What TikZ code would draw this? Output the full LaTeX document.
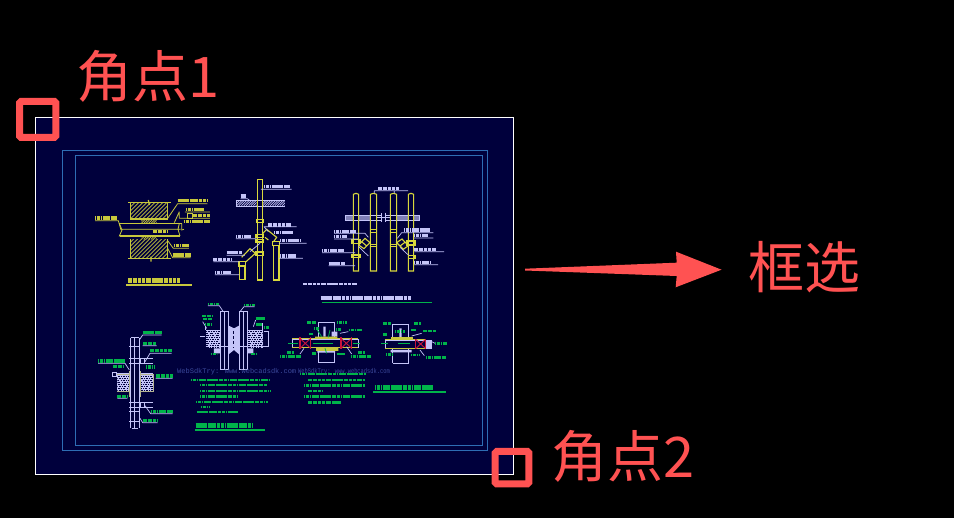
\documentclass[tikz,border=0pt]{standalone}
\usepackage{fontspec}
\newfontfamily\cjk{Noto Sans CJK SC}
\newfontfamily\wm{Liberation Mono}
\definecolor{redc}{HTML}{FF5252}
\definecolor{navy}{HTML}{00003C}
\definecolor{frameb}{HTML}{2E6DB4}
\definecolor{yel}{HTML}{C8C83C}
\definecolor{yel2}{HTML}{D8D83C}
\definecolor{lav}{HTML}{C4C4F8}
\definecolor{grn}{HTML}{00B44A}
\definecolor{redx}{HTML}{C8143C}
\definecolor{wmc}{HTML}{3C4A9C}
\definecolor{tanc}{HTML}{B4B490}
\tikzset{
 big/.style={text=redc,font=\cjk\fontsize{56}{56}\selectfont,anchor=west,inner sep=0pt},
 corner/.style={draw=redc,line width=7pt,rounded corners=1.5pt},
 frm/.style={draw=frameb,line width=.9pt},
 ypipe/.style={draw=yel2,line width=.9pt},
 lpipe/.style={draw=lav,line width=.9pt},
 ythin/.style={draw=yel,line width=.8pt},
 lthin/.style={draw=lav,line width=.7pt},
 gbar/.style={draw=grn,line width=1.1pt},
 blob/.style={line width=3.6pt,dash pattern=on 1.4pt off .3pt on 2.3pt off .3pt on 1pt off .35pt on 1.8pt off .3pt},
 yb/.style={blob,draw=yel},
 lb/.style={blob,draw=lav},
 gb/.style={blob,draw=grn},
 wmark/.style={text=wmc,font=\wm\fontsize{7}{7}\selectfont,inner sep=0pt,anchor=west}
}
\newcommand{\hatchbox}[6]{% x1 y1 x2 y2 step colour
 \begin{scope}
 \clip (#1,#2) rectangle (#3,#4);
 \foreach \k in {-120,-108,...,180}{\draw[#6,line width=.7pt] ({#1+\k*#5},#4) -- ++(80,-80);}
 \end{scope}}
\newcommand{\noisebox}[4]{% x1 y1 x2 y2
 \fill[lav] (#1,#2) rectangle (#3,#4);
 \begin{scope}
 \clip (#1,#2) rectangle (#3,#4);
 \foreach \r/\o in {0/0,1/1.3,2/.5,3/1.9,4/.9,5/1.6,6/.2,7/1.1,8/.7,9/1.8}{
  \draw[navy,line width=.9pt,dash pattern=on 1pt off .9pt on 2pt off 1.3pt,dash phase=\o pt] (#1,{#2+3+\r*6}) -- (#3,{#2+3+\r*6});}
 \end{scope}}
\begin{document}
\begin{tikzpicture}[x=1pt,y=-1pt]
\useasboundingbox (0,0) rectangle (954,518);
\fill[black] (0,0) rectangle (954,518);
% drawing sheet
\filldraw[fill=navy,draw=white,line width=1pt] (35.5,117.5) rectangle (513.5,474.3);
\draw[frm] (62,150.7) rectangle (487.5,450);
\draw[frm] (75,155.3) rectangle (482.7,445);

% ---------- upper left details (zoom 1 frame)
\begin{scope}[shift={(60,150)},x=.33333pt,y=-.33333pt]
 \hatchbox{211}{157}{323}{207}{1}{yel}
 \hatchbox{211}{268}{323}{325}{1}{yel}
 \hatchbox{244}{207}{290}{220}{.6}{yel}
 \hatchbox{244}{258}{290}{268}{.6}{yel}
 \draw[ythin,line width=1.1pt] (205,157) -- (332,157) (205,325) -- (332,325) (211,207) -- (323,207);
 \draw[ythin] (211,157) -- (211,207) (323,157) -- (323,207) (211,268) -- (211,325) (323,268) -- (323,325);
 \draw[ythin,line width=1.1pt] (178,220) -- (365,220) (180,258) -- (360,258);
 \draw[ythin] (183,238) -- (362,238) (178,220) -- (186,240) -- (178,258) -- (180,258) (358,220) -- (354,238) -- (360,258) (365,220) -- (365,240) -- (372,238);
 \draw[ythin,line width=1.2pt] (265,150) -- (268,165) (273,320) -- (273,335);
 % leaders
 \draw[ythin] (105,212) -- (175,212) -- (183,240)
   (353,161) -- (442,161) (353,161) -- (323,205)
   (358,185) -- (343,218) (358,205) -- (450,205) (358,185)--(358,205) (375,186)--(450,186)
   (340,295) -- (387,295) (340,295) -- (323,272)
   (338,323) -- (392,323) (338,323) -- (323,295);
 \draw[ythin] (382,190) rectangle (398,205);
 \draw[yb] (105,204) -- (172,204);
 \draw[yb] (353,152) -- (442,152);
 \draw[yb] (378,178) -- (433,178);
 \draw[yb] (400,197) -- (450,197);
 \draw[yb] (372,215) -- (450,215);
 \draw[yb] (280,245) -- (323,245);
 \draw[yb] (342,287) -- (387,287);
 \draw[yb] (338,315) -- (392,315);
 \draw[yb,line width=5pt] (205,391) -- (360,391);
 \draw[ythin,line width=1.7pt] (198,404) -- (395,404);
 % vertical pipe group
 \draw[lpipe] (528,152) -- (675,152) (528,168) -- (675,168) (528,152) -- (528,168);
 \hatchbox{530}{153}{590}{167}{.6}{lav}
 \hatchbox{609}{153}{675}{167}{.6}{lav}
 \draw[ypipe,line width=1.1pt] (592,88) rectangle (607,390);
 \draw[ypipe,line width=1.1pt] (640,285) -- (640,390) -- (657,390) -- (657,285);
 \draw[ypipe,line width=1.1pt] (538,345) -- (538,388) -- (555,388) -- (555,345);
 \draw[ypipe,line width=1.1pt] (590,208) -- (609,208) -- (609,217) -- (590,217) -- cycle
   (588,254) -- (609,254) -- (609,262) -- (588,262) -- cycle
   (588,268) -- (609,268) -- (609,276) -- (588,276) -- cycle
   (588,306) -- (609,306) -- (609,317) -- (588,317) -- cycle
   (537,335) -- (557,335) -- (557,348) -- (537,348) -- cycle
   (638,275) -- (659,275) -- (659,286) -- (638,286) -- cycle;
 \draw[ypipe,line width=1.1pt] (545,322) -- (570,296) -- (586,310) -- (557,336)
   (607,252) -- (620,238) -- (650,262) -- (640,276) (615,262)--(625,270);
 \draw[lthin] (603,118) -- (695,118) (542,146) -- (562,146) -- (570,152)
   (612,230) -- (710,230) (528,266) -- (590,266) (500,316) -- (555,316)
   (460,335) -- (538,335) (465,374) -- (538,374) (600,280) -- (570,305)
   (657,280) -- (740,280) (657,325) -- (729,325) (612,230) -- (625,245);
 \draw[lb] (612,110) -- (690,110);
 \draw[lb] (542,138) -- (558,138);
 \draw[lb] (625,225) -- (692,225);
 \draw[lb] (642,248) -- (700,248);
 \draw[lb] (528,260) -- (572,260);
 \draw[lb] (500,308) -- (545,308);
 \draw[lb] (460,328) -- (512,328);
 \draw[lb] (465,367) -- (512,367);
 \draw[lb] (660,272) -- (720,272);
 \draw[lb] (660,318) -- (708,318);
\end{scope}

% ---------- upper right detail (zoom 2 frame)
\begin{scope}[shift={(280,150)},x=.33333pt,y=-.33333pt]
 \draw[lpipe] (196,196) rectangle (305,211) (316,196) rectangle (419,211);
 \foreach \a/\b in {198/220,238/270,348/385,403/417}{\fill[lav,opacity=.65] (\a,198) rectangle (\b,209);}
 \draw[lthin] (305,190) -- (305,215) (316,188) -- (316,217) (292,203)--(330,203);
 \foreach \a/\b in {220/236,271/290,331/350,385/401}{
  \draw[ypipe,line width=1.1pt] (\a,133) -- ({(\a+\b)/2},130) -- (\b,133) -- (\b,363) -- (\a,363) -- cycle;}
 \draw[ypipe,line width=1.1pt]
   (216,268) rectangle (240,280) (216,315) rectangle (240,323)
   (271,238) rectangle (290,248) (271,283) rectangle (290,290)
   (331,238) rectangle (350,248) (331,283) rectangle (350,290)
   (381,273) rectangle (405,285) (385,316) rectangle (405,326);
 \draw[ypipe,line width=1.1pt] (236,285) -- (255,265) -- (270,278) -- (252,296) -- cycle (246,276)--(260,288);
 \draw[ypipe,line width=1.1pt] (385,287) -- (366,267) -- (350,278) -- (370,298) -- cycle (375,277)--(360,288);
 \draw[lthin] (283,122) -- (384,122) (283,122) -- (283,130) (343,122) -- (343,130)
   (162,250) -- (255,250) -- (265,262) (162,267) -- (235,267)
   (126,308) -- (225,308) (146,347) -- (225,347) (236,290) -- (265,318)
   (365,248) -- (460,248) (365,248) -- (352,265) (402,264) -- (460,264)
   (403,305) -- (492,305) (402,344) -- (474,344) (385,315) -- (360,292);
 \draw[lb] (295,115) -- (357,115);
 \draw[lb] (162,245) -- (228,245);
 \draw[lb] (162,260) -- (200,260);
 \draw[lb] (126,302) -- (192,302);
 \draw[lb] (146,340) -- (195,340);
 \draw[lb] (372,240) -- (447,240);
 \draw[lb] (402,257) -- (444,257);
 \draw[lb] (403,298) -- (468,298);
 \draw[lb] (402,337) -- (450,337);
 \draw[lb,line width=2.6pt] (70,402) -- (232,402);
 \draw[lb,line width=4.2pt] (122,443) -- (393,443);
 \draw[gbar] (126,457) -- (456,457);
\end{scope}

% ---------- lower left details (zoom 3 frame)
\begin{scope}[shift={(90,295)},x=.33333pt,y=-.33333pt]
 \noisebox{82}{235}{122}{290}
 \noisebox{148}{235}{190}{290}
 \draw[tanc,line width=1.1pt] (82,238) -- (120,238) (152,238) -- (190,238) (82,290) -- (118,290) (152,290) -- (190,290) (190,238) -- (190,290) (118,228) -- (118,305) (150,228) -- (150,305);
 \draw[lpipe] (120,128) -- (120,400) (148,128) -- (148,400) (133,128) -- (133,400);
 \draw[lpipe] (118,155) -- (150,155) (118,190) -- (190,190) (118,205) -- (190,205)
   (118,322) -- (190,322) (118,337) -- (190,337) (118,350) -- (150,350) (118,378) -- (150,378) (122,128) -- (146,128) (125,400) -- (143,400);
 \draw[lpipe] (150,190) rectangle (162,205) (150,322) rectangle (162,337);
 \draw[lthin] (158,120) -- (215,120) (158,120) -- (148,135) (158,152) -- (200,152)
   (180,175) -- (245,175) (180,175) -- (165,200) (24,205) -- (105,205) -- (118,225)
   (197,250) -- (248,250) (82,310) -- (112,310)
   (182,356) -- (248,356) (182,356) -- (165,332) (158,383) -- (203,383) (158,383)--(150,370);
 \foreach \a/\b/\c in {158/215/112, 160/200/145, 181/245/167, 24/105/198, 70/100/214, 168/195/216, 199/248/243, 82/112/304, 183/248/350, 160/203/376}{
  \draw[gb] (\a,\c) -- (\b,\c);}
 \draw[lav,line width=1.2pt] (67,232) rectangle (80,245);
 % second detail
 \noisebox{347}{105}{390}{160}
 \noisebox{473}{105}{518}{160}
 \fill[lav] (416,92) -- (432,100) -- (447,92) -- (447,178) -- (432,165) -- (416,178) -- cycle;
 \fill[lav] (372,160) rectangle (390,175) (473,160) rectangle (490,175);
 \draw[navy,line width=1pt,dash pattern=on 3pt off 2pt] (432,108) -- (432,160);
 \foreach \a/\b in {390/416,447/473}{
  \fill[navy] (\a,50) rectangle (\b,222);
  \draw[lpipe] (\a,50) rectangle (\b,222) ({\a+13},50) -- ({\a+13},222);
  \draw[lpipe] (\a,155) -- (\b,155);}
 \draw[lpipe] (347,155) -- (522,155) (331,125) -- (345,125) (522,110) -- (536,110) -- (536,155) -- (522,155) (345,85) -- (345,105) (518,85) -- (518,105);
 \draw[lthin] (354,32) -- (388,32) -- (400,50) (462,35) -- (494,35) (462,35) -- (450,50) (497,75) -- (490,95) (338,80) -- (350,100);
 \foreach \a/\b/\c in {354/388/27, 462/494/30, 337/368/63, 340/368/72, 345/365/88, 497/524/70, 497/516/88, 522/537/97, 363/380/177, 484/500/177}{
  \draw[gb,line width=2.8pt] (\a,\c) -- (\b,\c);}
 % notes
 \foreach \a/\b/\c in {303/537/255, 330/530/270, 330/540/288, 330/442/305, 318/535/321, 333/360/336, 320/445/351}{
  \draw[gb,line width=2.9pt] (\a,\c) -- (\b,\c);}
 \draw[gb,line width=5pt] (317,391) -- (490,391);
 \draw[gbar,line width=1.7pt] (315,405) -- (525,405);
\end{scope}

% ---------- lower right details (zoom 4 frame)
\begin{scope}[shift={(280,300)},x=.33333pt,y=-.33333pt]
 \draw[lpipe] (115,67) -- (162,67) (115,188) -- (162,188) (115,67) -- (115,115) (162,67) -- (162,115) (115,152) -- (115,188) (162,152) -- (162,188);
 \fill[lav] (130,80) rectangle (137,110) (155,95) rectangle (172,110) (112,152) rectangle (165,158);
 \fill[yel] (105,110) rectangle (172,120) (108,142) rectangle (175,153);
 \draw[lpipe] (37,118) rectangle (235,142);
 \draw[ythin,line width=1.2pt] (37,115) -- (235,115) (37,142) -- (235,142);
 \draw[gbar] (25,130) -- (55,130) (98,130) -- (160,130) (218,130) -- (240,130);
 \foreach \a/\b in {60/92,183/215}{
  \draw[redx,line width=.9pt] (\a,115) -- (\b,145) (\a,145) -- (\b,115);
  \draw[redx,line width=1.5pt] (\a,112) -- (\a,147) (\b,112) -- (\b,147);}
 \draw[lthin] (60,162) -- (72,145) (215,162) -- (200,140) (180,100) -- (205,95);
 \foreach \a/\b/\c in {82/107/67, 171/200/67, 102/115/85, 207/245/90, 88/100/102, 22/42/158, 0/60/169, 97/108/160, 170/195/162, 235/255/157, 213/272/169, 168/182/88}{
  \draw[gb,line width=2.8pt] (\a,\c) -- (\b,\c);}
 \draw[grn,line width=.8pt] (112,90) -- (125,110) (135,145) -- (140,160) (150,90) -- (145,112);
 % second
 \draw[lpipe] (338,72) -- (386,72) (338,190) -- (386,190) (338,72) -- (338,118) (386,72) -- (386,118) (338,146) -- (338,190) (386,146) -- (386,190);
 \fill[lav] (358,85) rectangle (365,112) (332,150) rectangle (395,157);
 \fill[yel] (333,110) rectangle (398,119);
 \fill[lav] (437,122) rectangle (455,146);
 \draw[lpipe] (315,120) rectangle (455,146);
 \draw[ythin,line width=1.1pt] (315,118) -- (437,118) (315,146) -- (437,146);
 \draw[gbar] (303,130) -- (325,130) (355,130) -- (390,130);
 \draw[redx,line width=.9pt] (407,118) -- (437,146) (407,146) -- (437,118);
 \draw[redx,line width=1.5pt] (407,116) -- (407,148) (437,116) -- (437,148);
 \draw[lthin] (420,150) -- (433,167) (395,108) -- (425,100) (455,125) -- (465,130);
 \foreach \a/\b/\c in {310/332/70, 403/422/70, 392/407/90, 430/467/93, 310/322/103, 465/500/130, 318/337/163, 393/420/165, 438/497/172, 345/375/95}{
  \draw[gb,line width=2.8pt] (\a,\c) -- (\b,\c);}
 % notes
 \foreach \a/\b/\c in {60/258/222, 85/255/240, 72/252/257, 85/130/273, 72/252/290, 85/182/308}{
  \draw[gb,line width=2.9pt] (\a,\c) -- (\b,\c);}
 \draw[gb,line width=5pt] (285,262) -- (458,262);
 \draw[gbar,line width=1.7pt] (280,276) -- (497,276);
\end{scope}

% watermark
\node[wmark] (wm1) at (177,371.5) {WebSdkTry: www.webcadsdk.com};
\node[wmark,xscale=.77,anchor=east] (wm2) at (390,371.5) {WebSdkTry: www.webcadsdk.com};

% annotations
\draw[corner] (19.5,101.5) rectangle (55.8,137.5);
\draw[corner] (495.2,451.5) rectangle (528.8,483.8);
\coordinate (tail) at (525,269.5);
\coordinate (tip) at (721.5,269.7);
\fill[redc] (525,268.7) -- (676.7,262.7) -- (676,251.7) -- (tip) -- (675.7,287.3) -- (676.7,276) -- (525,270.5) -- cycle;
\node[big] (c1) at (76,76) {角点1};
\node[big] (c2) at (551,456) {角点2};
\node[big] (kx) at (748,267) {框选};
\end{tikzpicture}
\end{document}
